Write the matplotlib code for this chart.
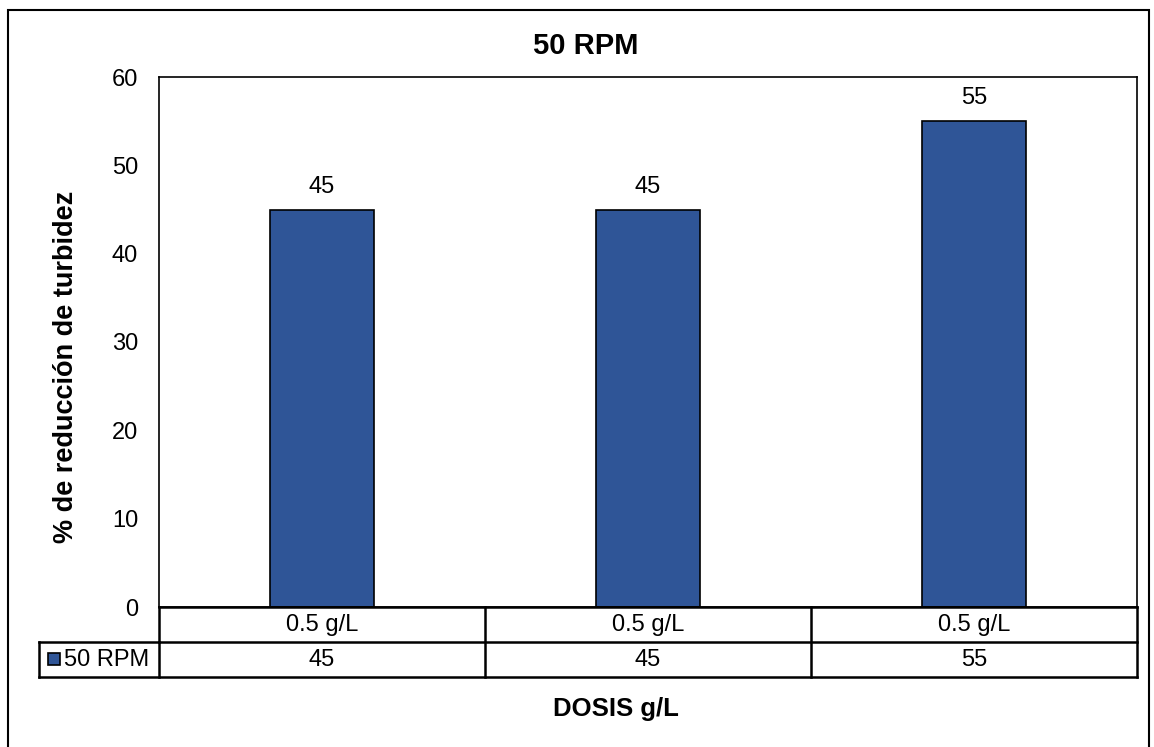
import matplotlib
matplotlib.use("Agg")
import matplotlib.pyplot as plt
from matplotlib.patches import Rectangle
from matplotlib.lines import Line2D

plt.rcParams['font.family'] = ['Liberation Sans', 'DejaVu Sans']

categories = ["0.5 g/L", "0.5 g/L", "0.5 g/L"]
values = [45, 45, 55]
series_name = "50 RPM"
title = "50 RPM"
ylabel = "% de reducción de turbidez"
xlabel = "DOSIS g/L"
yticks = [0, 10, 20, 30, 40, 50, 60]
bar_color = "#2F5597"

W, H = 1154, 747
fig = plt.figure(figsize=(W / 100, H / 100), dpi=100)
FS = 17

def fx(px):
    return px / W

def fy(py):
    return 1 - py / H

# outer chart frame
fig.add_artist(Rectangle((fx(8), fy(760)), fx(1149) - fx(8), fy(10) - fy(760),
                         transform=fig.transFigure, fill=False, edgecolor="black", lw=1.5))

left, right, top, bottom = 159, 1137, 77, 607
ax = fig.add_axes([fx(left), fy(bottom), fx(right) - fx(left), fy(top) - fy(bottom)])
x = list(range(len(values)))
ax.bar(x, values, width=0.316, color=bar_color, edgecolor="black", lw=1.2)
ax.set_xlim(-0.5, len(values) - 0.5)
ax.set_ylim(0, 60)
ax.set_yticks(yticks)
ax.set_yticklabels([str(t) for t in yticks], fontsize=FS)
ax.tick_params(axis="y", length=0, pad=15)
ax.set_xticks([])
for s in ax.spines.values():
    s.set_linewidth(1.2)
for xi, v in zip(x, values):
    ax.annotate(str(v), (xi, v), xytext=(0, 12), textcoords="offset points",
                ha="center", va="baseline", fontsize=FS)

fig.text(fx(586), fy(46), title, ha="center", va="center", fontsize=21, fontweight="bold")
fig.text(fx(66), fy(367), ylabel, rotation=90, ha="center", va="center",
         fontsize=19.5, fontweight="bold")
fig.text(fx(616), fy(709), xlabel, ha="center", va="center", fontsize=18.5, fontweight="bold")

# data table
r1_top, r1_bot, r2_bot = 607, 642, 677
colw = (right - left) / len(values)
lw = 1.8
def line(x0, y0, x1, y1):
    fig.add_artist(Line2D([fx(x0), fx(x1)], [fy(y0), fy(y1)], transform=fig.transFigure,
                          color="black", lw=lw, solid_capstyle="projecting"))
line(left, r1_top, right, r1_top)
line(left, r1_bot, right, r1_bot)
line(39, r1_bot, left, r1_bot)
line(39, r2_bot, right, r2_bot)
line(39, r1_bot, 39, r2_bot)
for i in range(len(values) + 1):
    xx = left + i * colw
    line(xx, r1_top, xx, r2_bot)
for i, (c, v) in enumerate(zip(categories, values)):
    cx = left + (i + 0.5) * colw
    fig.text(fx(cx), fy((r1_top + r1_bot) / 2), c, ha="center", va="center", fontsize=FS)
    fig.text(fx(cx), fy((r1_bot + r2_bot) / 2), str(v), ha="center", va="center", fontsize=FS)
# legend key
fig.add_artist(Rectangle((fx(48), fy(665)), fx(12), fy(653) - fy(665), transform=fig.transFigure,
                         facecolor=bar_color, edgecolor="black", lw=1.2))
fig.text(fx(64), fy((r1_bot + r2_bot) / 2), series_name, ha="left", va="center", fontsize=FS)

fig.savefig("out.png", dpi=100)
